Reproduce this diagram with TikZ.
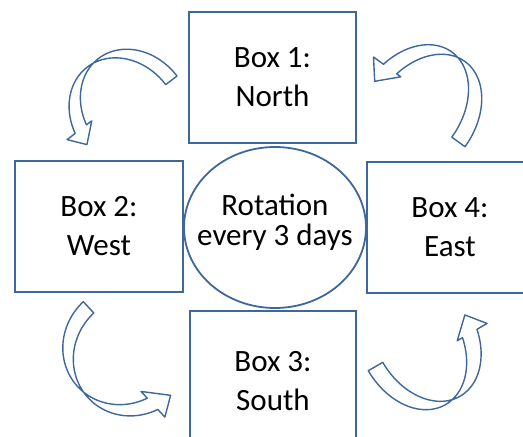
\documentclass[tikz,border=0pt]{standalone}
\usepackage{fontspec}
\setmainfont{Carlito}
\usetikzlibrary{shapes.geometric}

\definecolor{shapeblue}{RGB}{62,104,155}

\tikzset{
  boxshape/.style={draw=shapeblue, line width=1.8pt, fill=white, align=center,
    inner sep=0pt, font=\fontsize{31}{39}\selectfont},
  hubshape/.style={ellipse, draw=shapeblue, line width=1.8pt, inner sep=0pt},
  hubtext/.style={align=center, inner sep=0pt, font=\fontsize{31}{30}\selectfont},
  bandline/.style={draw=shapeblue, line width=1.4pt, fill=white, line join=round},
}

% Curved ribbon arrow built from two equal elliptic arcs shifted by the band width.
% #1 outer tail corner, #2 rotation of the base line, #3 horizontal radius,
% #4 rise of the arch, #5 band width, #6 head depth,
% #7 inner wing, #8 outer wing, #9 tip position along the base line
\newcommand{\bentarrow}[9]{%
  \begin{scope}[shift={#1}, rotate=#2]
    \pgfmathsetmacro{\phin}{asin(#6/#4)}
    \draw[bandline]
      plot[domain=180:\phin, samples=70, variable=\q] ({#3+#3*cos(\q)},{#4*sin(\q)})
      -- (#7,#6) -- (#9,0) -- (#8,#6)
      -- plot[domain=\phin:180, samples=70, variable=\q] ({#5+#3+#3*cos(\q)},{#4*sin(\q)})
      -- cycle;
  \end{scope}}

\begin{document}
\begin{tikzpicture}[x=1pt, y=-1pt]
  \useasboundingbox (0,0) rectangle (523,437);
  \clip (0,0) rectangle (523,437);

  % the four boxes
  \node[boxshape, minimum width=167pt, minimum height=131pt] (north) at (272.5,77.5) {Box 1:\\North};
  \node[boxshape, minimum width=168pt, minimum height=131pt] (west)  at (99,226.5)   {Box 2:\\West};
  \node[boxshape, minimum width=166pt, minimum height=141pt] (south) at (273,381.5)  {Box 3:\\South};
  \node[boxshape, minimum width=166pt, minimum height=131pt] (east)  at (450,227.5)  {Box 4:\\East};

  % centre ellipse
  \node[hubshape, minimum width=182pt, minimum height=161pt] (hub) at (275,227.5) {};
  \node[hubtext] (hublabel) at (275,222.5) {Rotation\\every 3 days};

  % rotation arrows
  \bentarrow{(177,76)}{217.3}{51.7}{61.5}{14.2}{16}{95}{126}{113.2}
  \bentarrow{(465,146.7)}{144.1}{50}{69}{16.3}{19}{93}{126.7}{111.5}
  \bentarrow{(83.3,301.7)}{-47}{58.5}{62}{15.4}{19}{105}{140}{128}
  \bentarrow{(368.3,370.7)}{30}{50}{68}{16.7}{18.5}{92}{126.5}{111.5}
\end{tikzpicture}
\end{document}
